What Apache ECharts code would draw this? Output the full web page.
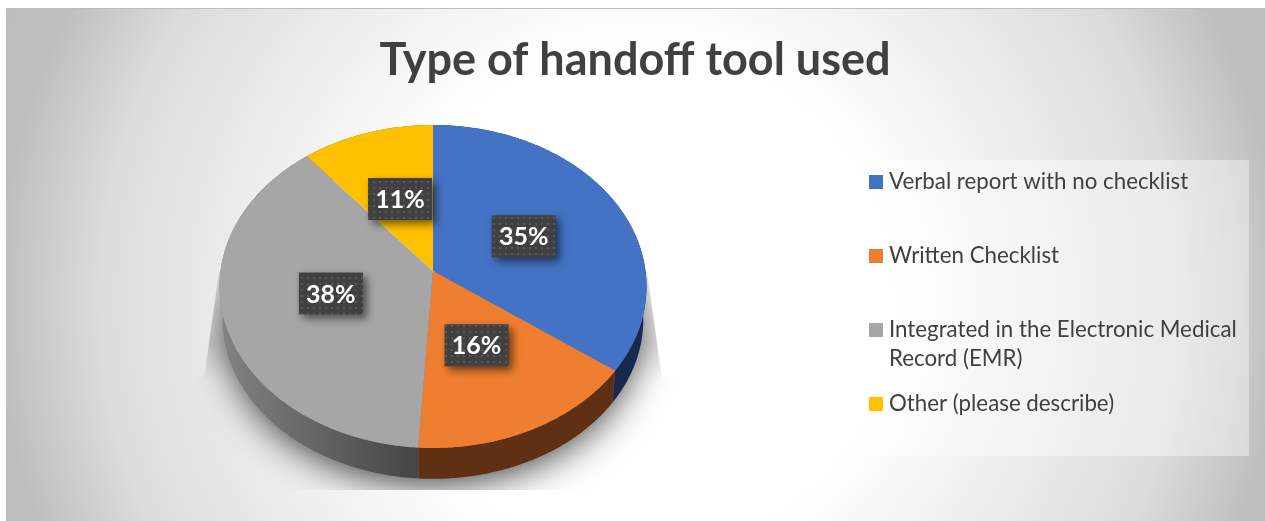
<!DOCTYPE html>
<html>
<head>
<meta charset="utf-8">
<title>Type of handoff tool used</title>
<script src="https://cdn.jsdelivr.net/npm/echarts@6/dist/echarts.min.js"></script>
<style>
  html, body { margin: 0; padding: 0; background: #fff; }
  #chart { width: 1265px; height: 521px; }
</style>
</head>
<body>
<div id="chart"></div>
<script>
const titleText = 'Type of handoff tool used';
const categories = [
  'Verbal report with no checklist',
  'Written Checklist',
  'Integrated in the Electronic Medical\nRecord (EMR)',
  'Other (please describe)'
];
const shares = [35, 16, 38, 11];

const topColors = ['#4472c4', '#f07e30', '#a6a6a6', '#ffc000'];
const sideColors = [
  '#17294f',
  '#5f3013',
  { type: 'linear', x: 222, y: 0, x2: 413, y2: 0, global: true,
    colorStops: [{ offset: 0, color: '#828282' }, { offset: 1, color: '#464646' }] },
  '#7f6000'
];

// Tilted disc: the rim is a circle seen in perspective, so the slice apex sits
// above the middle of the ellipse.
const disc = { cx: 433, cy: 271, a: 212.5, h: 160, k: 0.096, wallScale: 0.985, wallDrop: 33.5 };
const labelRadius = 0.5;
const labelNudge = [[0, 0], [-6, -5], [2, -3], [0, -3]];
const labelBox = { w: 64, h: 42 };
const legendCentres = [182, 256, 330, 404];

function project(theta, scale, drop) {
  const u = Math.sin(theta), v = Math.cos(theta), d = 1 + disc.k * v;
  return [disc.cx + disc.a * u / d * scale, disc.cy - disc.h * v / d * scale + drop];
}
function rim(from, to, scale, drop) {
  const pts = [], steps = Math.max(2, Math.ceil(Math.abs(to - from) / 0.01));
  for (let i = 0; i <= steps; i++) pts.push(project(from + (to - from) * i / steps, scale, drop));
  return pts;
}
const toAngle = pct => pct / 100 * Math.PI * 2;

// Dotted fill of the value tags.
const dots = document.createElement('canvas');
dots.width = dots.height = 6;
(function () {
  const c = dots.getContext('2d');
  c.fillStyle = '#404040'; c.fillRect(0, 0, 6, 6);
  c.fillStyle = '#585858'; c.fillRect(1, 1, 2, 2);
})();

function renderSlice(params, api) {
  const i = params.seriesIndex - 1;
  const share = api.value(0), before = api.value(1);
  const a0 = toAngle(before), a1 = toAngle(before + share);
  const top = [[disc.cx, disc.cy]].concat(rim(a0, a1, 1, 0));
  const wall = rim(a0, a1, 1, 0).concat(rim(a1, a0, disc.wallScale, disc.wallDrop));
  const mid = project((a0 + a1) / 2, labelRadius, 0);
  const lx = mid[0] + labelNudge[i][0], ly = mid[1] + labelNudge[i][1];
  return {
    type: 'group',
    children: [
      { type: 'polygon', z2: 1, shape: { points: wall }, style: { fill: sideColors[i] } },
      { type: 'polygon', z2: 5, shape: { points: top }, style: { fill: topColors[i] } },
      { type: 'rect', z2: 10,
        shape: { x: lx - labelBox.w / 2, y: ly - labelBox.h / 2, width: labelBox.w, height: labelBox.h },
        style: { fill: { image: dots, repeat: 'repeat' }, shadowColor: 'rgba(0,0,0,0.55)',
                 shadowBlur: 8, shadowOffsetX: 4, shadowOffsetY: 4 } },
      { type: 'text', z2: 11, x: lx, y: ly + 1,
        style: { text: share + '%', fill: '#ffffff', align: 'center', verticalAlign: 'middle',
                 font: 'bold 25px Lato, "Open Sans", sans-serif' } }
    ]
  };
}

// Soft cast shadow behind the disc: a tapering skirt at the sides, a blurred
// ground ellipse below, cut off flat underneath.
function renderBackdrop() {
  const ground = rim(0, Math.PI * 2, 0.96, 36);
  return {
    type: 'group',
    children: [
      { type: 'polygon', z2: 0,
        shape: { points: [[219, 272], [647, 272], [662, 382], [204, 382]] },
        style: { fill: { type: 'linear', x: 0, y: 272, x2: 0, y2: 382, global: true,
          colorStops: [
            { offset: 0, color: 'rgba(0,0,0,0)' },
            { offset: 0.65, color: 'rgba(0,0,0,0.1)' },
            { offset: 1, color: 'rgba(0,0,0,0)' }
          ] } } },
      { type: 'polygon', z2: 0,
        shape: { points: ground },
        clipPath: { type: 'polygon', shape: { points: [
          [219, 272], [647, 272], [662, 376], [760, 376], [760, 490], [110, 490], [110, 376], [204, 376]
        ] } },
        style: { fill: '#777', shadowColor: 'rgba(0,0,0,0.8)', shadowBlur: 38, shadowOffsetY: 6 } }
    ]
  };
}

let running = 0;
const sliceSeries = categories.map((name, i) => {
  const row = [shares[i], running];
  running += shares[i];
  return {
    type: 'custom', name, coordinateSystem: 'none', silent: true,
    itemStyle: { color: topColors[i] },
    data: [row], renderItem: renderSlice
  };
});

const legends = categories.map((name, i) => {
  const twoLines = name.includes('\n');
  return {
    show: true, orient: 'vertical', left: 869, padding: 0,
    top: legendCentres[i] - 15.5,
    selectedMode: false,
    itemWidth: 14, itemHeight: twoLines ? 58 : 14,
    // The swatch of a wrapped entry stays level with the first line.
    data: [{ name, icon: twoLines
      ? 'path://M0 7.5H14V21.5H0Z M0 0L0.01 0 M0 58L0.01 58' : 'rect' }],
    textStyle: { color: '#404040', fontSize: 22.3, lineHeight: 29, padding: [2, 0, 0, 1],
                 fontFamily: 'Lato, "Open Sans", sans-serif' }
  };
});

const chart = echarts.init(document.getElementById('chart'), null, { renderer: 'canvas' });
chart.setOption({
  animation: false,
  title: {
    text: titleText, left: 630, top: 33, textAlign: 'center',
    textStyle: { color: '#404040', fontSize: 45, fontWeight: 'bold', fontFamily: 'Lato, "Open Sans", sans-serif' }
  },
  legend: legends,
  graphic: [
    { type: 'rect', z: 0, silent: true, shape: { x: 6, y: 8, width: 1259, height: 513 },
      style: { fill: { type: 'radial', x: 640, y: 300, r: 720, global: true,
        colorStops: [
          { offset: 0, color: '#ffffff' },
          { offset: 0.35, color: '#ffffff' },
          { offset: 0.75, color: '#dcdcdc' },
          { offset: 0.89, color: '#bfbfbf' },
          { offset: 1, color: '#bbbbbb' }
        ] } } },
    { type: 'rect', z: 0, silent: true, shape: { x: 6, y: 8, width: 1259, height: 1 }, style: { fill: '#bdbdbd' } },
    { type: 'rect', z: 1, silent: true, shape: { x: 857, y: 160, width: 392, height: 296 },
      style: { fill: 'rgba(255,255,255,0.4)' } }
  ],
  series: [
    { type: 'custom', coordinateSystem: 'none', silent: true, z: 1, data: [[0]], renderItem: renderBackdrop }
  ].concat(sliceSeries)
});
</script>
</body>
</html>
